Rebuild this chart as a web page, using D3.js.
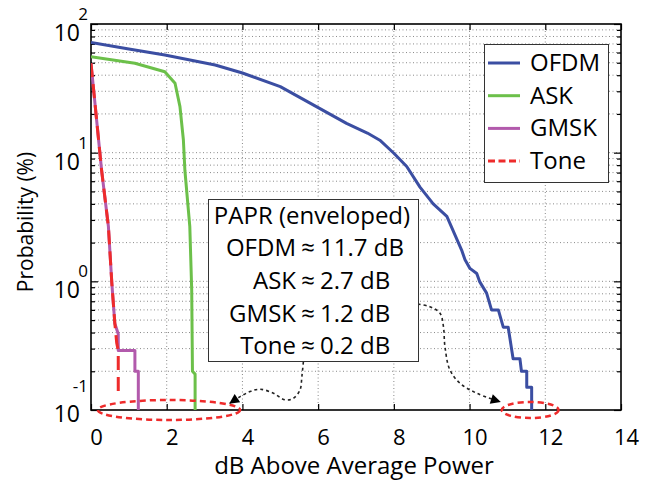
<!DOCTYPE html>
<html>
<head>
<meta charset="utf-8">
<script src="https://cdn.jsdelivr.net/npm/d3@7"></script>
<style>
  body { margin: 0; background: #fff; }
  svg { font-family: "Open Sans", sans-serif; }
</style>
</head>
<body>
<div id="chart"></div>
<script>
// CCDF curves (x in dB above average power, y in %)
const ofdmX = [0, 1, 1.95, 3.28, 4, 5, 5.87, 6.75, 7.3, 7.63, 8.0, 8.34, 8.69, 9.04, 9.4, 9.79, 9.88, 10.01, 10.19, 10.27, 10.45, 10.58, 10.76, 10.89, 11.02, 11.15, 11.33, 11.37, 11.51, 11.51, 11.64, 11.64];
const ofdmP = [72, 64, 57.4, 48, 41.6, 32.6, 23.5, 16.9, 14.2, 12.5, 9.9, 7.8, 5.4, 4.0, 3.2, 1.75, 1.47, 1.26, 1.15, 0.99, 0.81, 0.60, 0.60, 0.44, 0.44, 0.25, 0.25, 0.20, 0.20, 0.15, 0.15, 0.1];

const askX = [0, 1.16, 1.95, 2.22, 2.35, 2.44, 2.48, 2.61, 2.66, 2.68, 2.75, 2.75];
const askP = [55.7, 49.5, 42.6, 34.6, 22.8, 12.6, 7.3, 2.66, 0.86, 0.2, 0.19, 0.1];

const gmskX = [0, 0.28, 0.46, 0.55, 0.63, 0.72, 0.72, 1.16, 1.16, 1.25, 1.25];
const gmskP = [49.5, 7.3, 2.66, 0.97, 0.47, 0.39, 0.29, 0.29, 0.2, 0.2, 0.1];

const toneX = [0, 0.28, 0.46, 0.55, 0.63, 0.68, 0.72, 0.72];
const toneP = [49.5, 7.3, 2.66, 0.97, 0.47, 0.33, 0.29, 0.14];

const seriesNames = ["OFDM", "ASK", "GMSK", "Tone"];
const seriesColors = ["#3b4ea2", "#6cc04a", "#b25aac", "#ee2b2b"];

const xTicks = [0, 2, 4, 6, 8, 10, 12, 14];
const yTicks = [0.1, 1, 10, 100];
const yExponents = ["-1", "0", "1", "2"];

// PAPR text box
const paprTitle = "PAPR (enveloped)";
const paprNames = ["OFDM", "ASK", "GMSK", "Tone"];
const paprValues = ["11.7 dB", "2.7 dB", "1.2 dB", "0.2 dB"];

// red dashed ellipses (centre in dB, half width in dB)
const ellipseCx = [2.06, 11.6];
const ellipseHalf = [1.88, 0.75];

// dotted arrows, points in data units
const arrowLeft = [[5.61, 0.237], [5.57, 0.182], [5.52, 0.143], [5.34, 0.123], [5.12, 0.12], [4.82, 0.135], [4.47, 0.145], [4.2, 0.139], [3.94, 0.127], [3.67, 0.113]];
const arrowRight = [[8.47, 0.675], [8.95, 0.635], [9.22, 0.565], [9.31, 0.444], [9.35, 0.31], [9.48, 0.205], [9.75, 0.161], [10.19, 0.135], [10.8, 0.116]];

const width = 657, height = 483;
const margin = { top: 24, right: 36, bottom: 73, left: 91 };

const svg = d3.select("#chart").append("svg")
  .attr("width", width)
  .attr("height", height);

const x = d3.scaleLinear().domain([0, 14]).range([margin.left, width - margin.right]);
const y = d3.scaleLog().domain([0.1, 100]).range([height - margin.bottom, margin.top]);

// minor log ticks
const yMinor = [];
[0.1, 1, 10].forEach(function (d) {
  for (let k = 2; k <= 9; k++) yMinor.push(d * k);
});

svg.append("defs").append("clipPath").attr("id", "clip")
  .append("rect")
  .attr("x", margin.left).attr("y", margin.top)
  .attr("width", x(14) - x(0)).attr("height", y(0.1) - y(100));

// grid
const grid = svg.append("g").attr("stroke", "#8a8a8a").attr("stroke-width", 1).attr("stroke-dasharray", "1,2.5");
grid.selectAll(".gx").data(xTicks.slice(1, -1)).join("line")
  .attr("x1", d => x(d)).attr("x2", d => x(d))
  .attr("y1", y(0.1)).attr("y2", y(100));
grid.selectAll(".gy").data(yMinor.concat([1, 10])).join("line")
  .attr("x1", x(0)).attr("x2", x(14))
  .attr("y1", d => y(d)).attr("y2", d => y(d));

// axes with inward ticks
function styleAxis(g) {
  g.select(".domain").remove();
  g.selectAll("line").attr("stroke", "#000").attr("stroke-width", 1.2);
}
svg.append("g").attr("transform", "translate(0," + y(0.1) + ")")
  .call(d3.axisBottom(x).tickValues(xTicks).tickSize(-6).tickPadding(19).tickFormat(d3.format("d")))
  .call(styleAxis)
  .call(g => g.selectAll("text").attr("font-size", 22).attr("fill", "#000").attr("font-family", "Open Sans").attr("dx", 5));
svg.append("g").attr("transform", "translate(0," + y(100) + ")")
  .call(d3.axisTop(x).tickValues(xTicks).tickSize(-6).tickFormat(""))
  .call(styleAxis);
svg.append("g").attr("transform", "translate(" + x(0) + ",0)")
  .call(d3.axisLeft(y).tickValues(yTicks).tickSize(-7).tickFormat(""))
  .call(styleAxis);
svg.append("g").attr("transform", "translate(" + x(0) + ",0)")
  .call(d3.axisLeft(y).tickValues(yMinor).tickSize(-4).tickFormat(""))
  .call(styleAxis);
svg.append("g").attr("transform", "translate(" + x(14) + ",0)")
  .call(d3.axisRight(y).tickValues(yTicks).tickSize(-7).tickFormat(""))
  .call(styleAxis);
svg.append("g").attr("transform", "translate(" + x(14) + ",0)")
  .call(d3.axisRight(y).tickValues(yMinor).tickSize(-4).tickFormat(""))
  .call(styleAxis);

// y tick labels 10^n
const yl = svg.append("g").attr("font-size", 23).attr("fill", "#000");
yTicks.forEach(function (d, i) {
  const bottom = d === 0.1;
  yl.append("text")
    .attr("x", 80).attr("y", y(d) + (bottom ? 12 : 17))
    .attr("text-anchor", "end").text("10");
  yl.append("text")
    .attr("x", 88).attr("y", y(d) + (bottom ? -18 : -4))
    .attr("text-anchor", "end").attr("font-size", 17).text(yExponents[i]);
});

// frame
svg.append("rect")
  .attr("x", x(0)).attr("y", y(100))
  .attr("width", x(14) - x(0)).attr("height", y(0.1) - y(100))
  .attr("fill", "none").attr("stroke", "#000").attr("stroke-width", 1.6);

// curves
const line = d3.line().x(d => x(d[0])).y(d => y(d[1]));
const series = [
  d3.zip(ofdmX, ofdmP),
  d3.zip(askX, askP),
  d3.zip(gmskX, gmskP),
  d3.zip(toneX, toneP)
];
const plot = svg.append("g").attr("clip-path", "url(#clip)");
series.forEach(function (s, i) {
  plot.append("path")
    .datum(s)
    .attr("d", line)
    .attr("fill", "none")
    .attr("stroke", seriesColors[i])
    .attr("stroke-width", 3)
    .attr("stroke-linejoin", "round")
    .attr("stroke-dasharray", seriesNames[i] === "Tone" ? "14,7" : null);
});

// ellipses
ellipseCx.forEach(function (c, i) {
  svg.append("ellipse")
    .attr("cx", x(c)).attr("cy", y(0.1))
    .attr("rx", x(c + ellipseHalf[i]) - x(c)).attr("ry", i === 0 ? 10 : 8)
    .attr("fill", "none").attr("stroke", "#ee2b2b")
    .attr("stroke-width", 2.5).attr("stroke-dasharray", "6,4");
});

// arrows
svg.select("defs").append("marker")
  .attr("id", "head").attr("viewBox", "0 0 10 10")
  .attr("refX", 9).attr("refY", 5)
  .attr("markerWidth", 14).attr("markerHeight", 10)
  .attr("markerUnits", "userSpaceOnUse")
  .attr("orient", "auto")
  .append("path").attr("d", "M0,0L10,5L0,10Z").attr("fill", "#000");
const curve = d3.line().x(d => x(d[0])).y(d => y(d[1])).curve(d3.curveCatmullRom);
[arrowLeft, arrowRight].forEach(function (a) {
  svg.append("path")
    .datum(a)
    .attr("d", curve)
    .attr("fill", "none").attr("stroke", "#222")
    .attr("stroke-width", 1.6).attr("stroke-dasharray", "3,3")
    .attr("marker-end", "url(#head)");
});

// PAPR box
const box = svg.append("g").attr("font-size", 24).attr("fill", "#000");
box.append("rect")
  .attr("x", 208.5).attr("y", 199.5).attr("width", 210).attr("height", 162)
  .attr("fill", "#fff").attr("stroke", "#333").attr("stroke-width", 1);
box.append("text").attr("x", 312).attr("y", 224).attr("text-anchor", "middle").text(paprTitle);
paprNames.forEach(function (n, i) {
  const by = 256 + i * 32.8;
  box.append("text").attr("x", 296).attr("y", by).attr("text-anchor", "end").text(n);
  box.append("text").attr("x", 308).attr("y", by).attr("text-anchor", "middle").text("\u2248");
  box.append("text").attr("x", 320).attr("y", by).text(paprValues[i]);
});

// legend
const lg = svg.append("g").attr("font-size", 24).attr("fill", "#000");
lg.append("rect")
  .attr("x", 484.5).attr("y", 44.5).attr("width", 124).attr("height", 138)
  .attr("fill", "#fff").attr("stroke", "#333").attr("stroke-width", 1);
seriesNames.forEach(function (n, i) {
  const ly = 63 + i * 32.7;
  lg.append("line")
    .attr("x1", 488).attr("x2", 520).attr("y1", ly).attr("y2", ly)
    .attr("stroke", seriesColors[i]).attr("stroke-width", 3)
    .attr("stroke-dasharray", n === "Tone" ? "7,3.5" : null);
  lg.append("text").attr("x", 530).attr("y", ly + 8).text(n);
});

// axis titles
svg.append("text")
  .attr("x", 354).attr("y", 474)
  .attr("text-anchor", "middle").attr("font-size", 24)
  .text("dB Above Average Power");
svg.append("text")
  .attr("transform", "translate(33,222) rotate(-90)")
  .attr("text-anchor", "middle").attr("font-size", 21)
  .text("Probability (%)");
</script>
</body>
</html>
